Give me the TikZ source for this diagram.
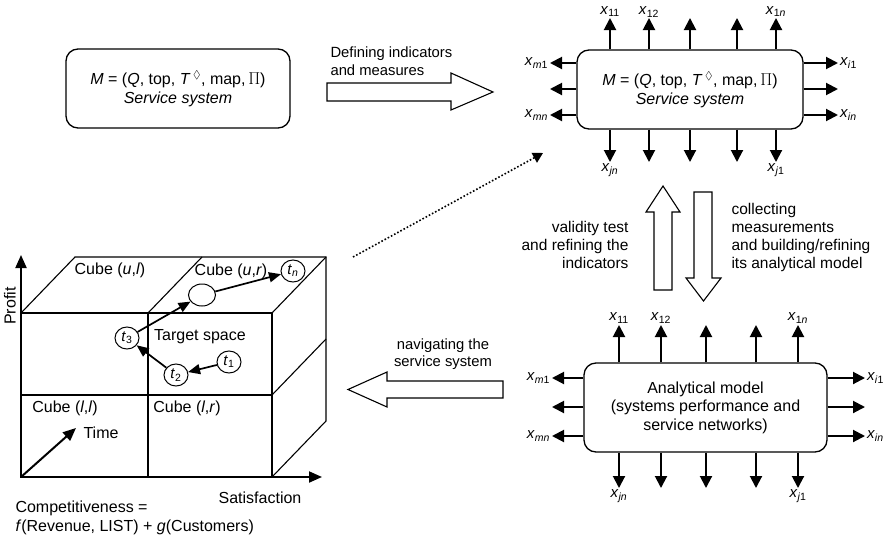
\documentclass[tikz,border=0pt]{standalone}
\usepackage{amssymb}
\usepackage[no-math]{fontspec}
\setmainfont{Liberation Sans}
\usetikzlibrary{arrows.meta,shapes.geometric}

\newcommand{\xv}[1]{\textit{x}\textsubscript{#1}}
\newcommand{\tv}[1]{\textit{t}\textsubscript{#1}}
\newcommand{\mtuple}{\textit{M} = (\textit{Q}, top, \textit{T}\,$^{\Diamond}$, map,\,$\Pi$)}

\begin{document}
\begin{tikzpicture}[x=1pt,y=-1pt,
		every node/.style={font=\fontsize{16}{18.5}\selectfont},
		model/.style={draw,rounded corners=12pt,line width=1.3pt,align=center,inner sep=0pt},
		stub/.style={line width=2pt,-{Triangle[length=12pt,width=12pt]}},
		sublabel/.style={inner sep=1pt,font=\fontsize{15}{18}\selectfont},
		arrowtext/.style={font=\fontsize{14.8}{17.5}\selectfont},
		sidetext/.style={font=\fontsize{15.5}{18}\selectfont},
		hollow/.style={draw,line width=1.1pt,fill=white},
		cubeline/.style={line width=1.1pt},
		axis/.style={line width=2pt,-{Triangle[length=13pt,width=11pt]}},
		tstate/.style={ellipse,draw,fill=white,line width=1pt,inner sep=0pt,minimum width=24pt,minimum height=22pt,font=\fontsize{15}{18}\selectfont},
		track/.style={line width=1.7pt,-{Triangle[length=12pt,width=10pt]}}]
			\useasboundingbox (0,0) rectangle (886,538);

			% service system boxes
			\node[model,minimum width=224pt,minimum height=79pt] (def) at (178,88.5) {\mtuple\\\textit{Service system}};
			\node[model,minimum width=226pt,minimum height=79pt] (sys) at (690,89.5) {\mtuple\\\textit{Service system}};
			\node[model,minimum width=243pt,minimum height=89pt] (ana) at (705.5,407.5) {Analytical model\\(systems performance and\\service networks)};

			% indicators of the service system
			\foreach \px/\lab in {610/{\xv{11}},649/{\xv{12}},690/{},737/{},776/{\xv{1\textit{n}}}} {
				\coordinate (su\px) at (\px,18);
				\draw[stub] (sys.north -| su\px) -- (su\px) node[above,sublabel,inner sep=0pt] {\lab};
			}
			\foreach \px/\lab in {610/{\xv{\textit{jn}}},649/{},690/{},737/{},776/{\xv{\textit{j}1}}} {
				\coordinate (sd\px) at (\px,162);
				\draw[stub] (sys.south -| sd\px) -- (sd\px) node[below,sublabel] {\lab};
			}
			\foreach \py/\lab in {63/{\xv{\textit{m}1}},89/{},115/{\xv{\textit{mn}}}} {
				\coordinate (sl\py) at (550,\py);
				\draw[stub] (sys.west |- sl\py) -- (sl\py) node[left,sublabel] {\lab};
			}
			\foreach \py/\lab in {63/{\xv{\textit{i}1}},89/{},115/{\xv{\textit{in}}}} {
				\coordinate (sr\py) at (838,\py);
				\draw[stub] (sys.east |- sr\py) -- (sr\py) node[right,sublabel] {\lab};
			}

			% indicators of the analytical model
			\foreach \px/\lab in {619/{\xv{11}},661/{\xv{12}},706/{},756/{},798/{\xv{1\textit{n}}}} {
				\coordinate (au\px) at (\px,325);
				\draw[stub] (ana.north -| au\px) -- (au\px) node[above,sublabel] {\lab};
			}
			\foreach \px/\lab in {619/{\xv{\textit{jn}}},661/{},706/{},756/{},798/{\xv{\textit{j}1}}} {
				\coordinate (ad\px) at (\px,488);
				\draw[stub] (ana.south -| ad\px) -- (ad\px) node[below,sublabel] {\lab};
			}
			\foreach \py/\lab in {378/{\xv{\textit{m}1}},407/{},436/{\xv{\textit{mn}}}} {
				\coordinate (al\py) at (552,\py);
				\draw[stub] (ana.west |- al\py) -- (al\py) node[left,sublabel] {\lab};
			}
			\foreach \py/\lab in {378/{\xv{\textit{i}1}},407/{},436/{\xv{\textit{in}}}} {
				\coordinate (ar\py) at (865,\py);
				\draw[stub] (ana.east |- ar\py) -- (ar\py) node[right,sublabel] {\lab};
			}

			% hollow arrows
			\draw[hollow] (327,83) -- (451,83) -- (451,73) -- (493,92) -- (451,110) -- (451,101) -- (327,101) -- cycle;
			\node[arrowtext,align=left,anchor=west] (defl) at (327,61) {Defining indicators\\and measures};
			\draw[hollow] (654,290) -- (654,212) -- (646,212) -- (663,186) -- (680,212) -- (672,212) -- (672,290) -- cycle;
			\node[sidetext,align=right,anchor=east] (vall) at (632,245) {validity test\\and refining the\\indicators};
			\draw[hollow] (694,192) -- (694,278) -- (686,278) -- (703.5,301) -- (721,278) -- (712,278) -- (712,192) -- cycle;
			\node[sidetext,align=left,anchor=west] (coll) at (728,237) {collecting\\measurements\\and building/refining\\its analytical model};
			\draw[hollow] (503,381) -- (387,381) -- (387,372) -- (348,389.5) -- (387,407) -- (387,398) -- (503,398) -- cycle;
			\node[arrowtext,align=center] (navl) at (443,354) {navigating the\\service system};

			% dotted link
			\coordinate (dfrom) at (353,257);
			\coordinate (dto) at (543,153);
			\draw[dotted,line width=1.6pt,-{Triangle[length=10pt,width=11pt]}] (dfrom) -- (dto);

			% cube
			\coordinate (o) at (21,477);
			\draw[cubeline] (21,313) rectangle (272,477);
			\draw[cubeline] (148,313) -- (148,477);
			\draw[cubeline] (21,395) -- (272,395);
			\draw[cubeline] (21,313) -- (75,257) -- (326,257) -- (326,421) -- (272,477);
			\draw[cubeline] (148,313) -- (202,257);
			\draw[cubeline] (272,313) -- (326,257);
			\draw[cubeline] (272,395) -- (326,339);

			\draw[axis] (o) -- (21,255);
			\draw[axis] (o) -- (322,477);
			\draw[axis] (o) -- (76,428);
			\node[rotate=90] (prof) at (10,306) {Profit};
			\node (sat) at (260,498) {Satisfaction};
			\node[anchor=west] (time) at (80,433) {Time};
			\node (cul) at (110,270) {Cube (\textit{u},\textit{l})};
			\node (cur) at (231,271) {Cube (\textit{u},\textit{r})};
			\node (cll) at (65,408) {Cube (\textit{l},\textit{l})};
			\node (clr) at (187,408) {Cube (\textit{l},\textit{r})};
			\node (tsp) at (200,337) {Target space};
			\node[align=left,anchor=west,font=\fontsize{16}{19}\selectfont] (comp) at (12,517.5) {Competitiveness =\\\textit{f}(Revenue, LIST) + \textit{g}(Customers)};

			% trajectory
			\node[tstate] (t1) at (229,362) {\tv{1}};
			\node[tstate] (t2) at (176,375) {\tv{2}};
			\node[tstate] (t3) at (127,338) {\tv{3}};
			\node[tstate,minimum width=27pt] (tc) at (202,295) {};
			\node[tstate] (tn) at (293,271) {\tv{\textit{n}}};
			\draw[track] (t1) -- (t2);
			\draw[track] (t2) -- (t3);
			\draw[track] (t3) -- (tc);
			\draw[track] (tc) -- (tn);
		\end{tikzpicture}
\end{document}
